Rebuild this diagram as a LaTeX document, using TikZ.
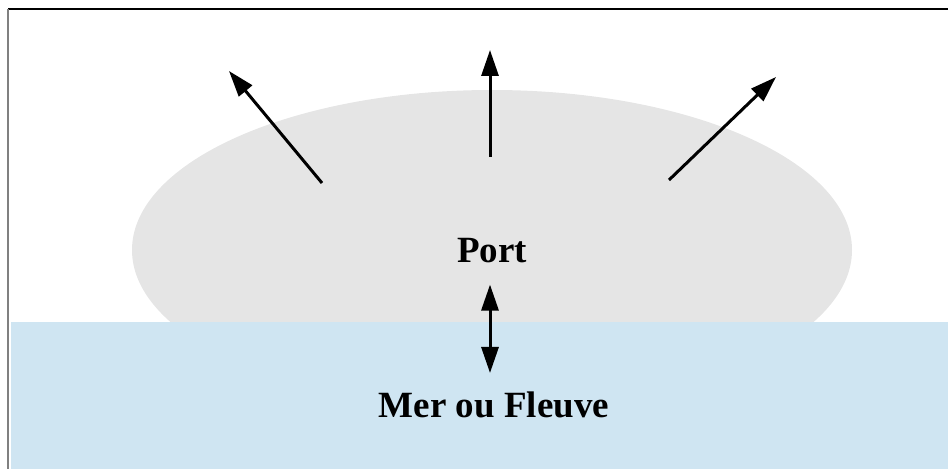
\documentclass[tikz,border=0pt]{standalone}
\usepackage{fontspec}
\setmainfont{Liberation Serif}
\usetikzlibrary{arrows.meta,shapes.geometric}
\definecolor{portgrey}{HTML}{E5E5E5}
\definecolor{waterblue}{HTML}{CFE5F2}
\definecolor{framegrey}{HTML}{808080}
\begin{document}
\begin{tikzpicture}[x=1pt, y=1pt,
                    label/.style={inner sep=0pt, anchor=base, font=\bfseries\fontsize{37}{44}\selectfont},
                    flow/.style={line width=3pt, -{Triangle[length=26pt,width=17pt]}},
                    twoway/.style={line width=3pt, {Triangle[length=26pt,width=17pt]}-{Triangle[length=26pt,width=17pt]}}]
        \useasboundingbox (0,0) rectangle (948,469);
        % frame of the page
        \draw[black, line width=1.3pt] (8,460) -- (948,460);
        \draw[framegrey, line width=2pt] (8,460) -- (8,0);

        \node (harbour) [ellipse, fill=portgrey, minimum width=720pt, minimum height=320pt, inner sep=0pt] at (492,219) {};
        \fill[waterblue] (11,0) rectangle (948,147);

        \node (port) [label] at (492,206) {Port};
        \node (sea) [label] at (494,52) {Mer ou Fleuve};

        \coordinate (fromleft) at (322,286);
        \coordinate (toleft) at (229,398);
        \coordinate (frommid) at (490,312);
        \coordinate (tomid) at (490,419);
        \coordinate (fromright) at (669,289);
        \coordinate (toright) at (776,392);
        \coordinate (towater) at (490,96);

        \draw[flow] (fromleft) -- (toleft);
        \draw[flow] (frommid) -- (tomid);
        \draw[flow] (fromright) -- (toright);
        \draw[twoway] ([yshift=-21pt]port.south -| towater) -- (towater);
    \end{tikzpicture}
\end{document}
